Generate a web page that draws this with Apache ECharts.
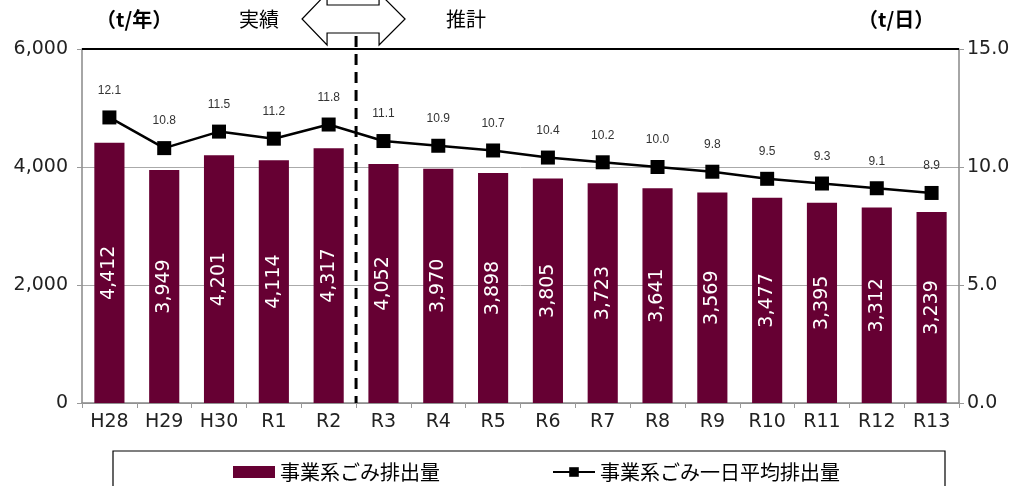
<!DOCTYPE html>
<html><head><meta charset="utf-8">
<script src="https://cdn.jsdelivr.net/npm/echarts@6/dist/echarts.min.js"></script>
<style>html,body{margin:0;padding:0;background:#fff}#c{width:1023px;height:486px}</style>
</head><body><div id="c"></div>
<script>
const categories = ['H28','H29','H30','R1','R2','R3','R4','R5','R6','R7','R8','R9','R10','R11','R12','R13'];
const annualValues = [4412,3949,4201,4114,4317,4052,3970,3898,3805,3723,3641,3569,3477,3395,3312,3239];
const dailyValues = [12.1,10.8,11.5,11.2,11.8,11.1,10.9,10.7,10.4,10.2,10.0,9.8,9.5,9.3,9.1,8.9];
const leftTicks = {min:0,max:6000,interval:2000};
const rightTicks = {min:0,max:15,interval:5};
const seriesNames = ['事業系ごみ排出量','事業系ごみ一日平均排出量'];
const unitLeft = '（t/年）', unitRight = '（t/日）', labelActual = '実績', labelForecast = '推計';
const splitIndex = 5; // first forecast category

const FONT = '"DejaVu Sans", "Noto Sans CJK JP", sans-serif';
const JFONT = '"Noto Sans CJK JP", sans-serif';
const SMALL = '"Liberation Sans", Arial, sans-serif';
const chart = echarts.init(document.getElementById('c'));
const fmt = v => v.toLocaleString('en-US');
chart.setOption({
  animation:false,
  textStyle:{fontFamily:FONT},
  grid:{left:82,right:64,top:49,bottom:83},
  legend:{
    left:228, top:457, itemGap:112, itemWidth:42, itemHeight:12,
    textStyle:{fontSize:20,color:'#000',fontFamily:JFONT},
    data:[{name:seriesNames[0],icon:'rect'},{name:seriesNames[1]}]
  },
  xAxis:{
    type:'category', data:categories,
    axisLine:{lineStyle:{color:'#888',width:1.5}},
    axisTick:{show:true,alignWithLabel:false,length:5,lineStyle:{color:'#999'}},
    axisLabel:{fontSize:19,color:'#222',margin:10,fontFamily:FONT}
  },
  yAxis:[
    {type:'value',min:leftTicks.min,max:leftTicks.max,interval:leftTicks.interval,
     axisLine:{show:true,lineStyle:{color:'#888',width:1.5}},
     axisTick:{show:true,length:5,lineStyle:{color:'#999'}},
     splitLine:{lineStyle:{color:'#aaa',width:1}},
     axisLabel:{fontSize:19,color:'#222',margin:14,formatter:v=>fmt(v),fontFamily:FONT}},
    {type:'value',min:rightTicks.min,max:rightTicks.max,interval:rightTicks.interval,
     axisLine:{show:true,lineStyle:{color:'#888',width:1.5}},
     axisTick:{show:true,length:5,lineStyle:{color:'#999'}},
     splitLine:{show:false},
     axisLabel:{fontSize:19,color:'#222',margin:8,formatter:v=>v.toFixed(1),fontFamily:FONT}}
  ],
  series:[
    {name:seriesNames[0],type:'bar',data:annualValues,barWidth:'55%',
     itemStyle:{color:'#660033'},
     label:{show:true,position:'inside',rotate:90,color:'#fff',fontSize:19,
       formatter:p=>fmt(p.value),fontFamily:FONT}},
    {name:seriesNames[1],type:'line',yAxisIndex:1,data:dailyValues,
     symbol:'rect',symbolSize:14,
     lineStyle:{color:'#000',width:2.5},itemStyle:{color:'#000'},
     label:{show:true,position:'top',distance:14,fontSize:12,color:'#333',
       formatter:p=>p.value.toFixed(1),fontFamily:SMALL},
     z:5}
  ]
});

// decorations computed from the axes
const pA = chart.convertToPixel({xAxisIndex:0},categories[splitIndex-1]);
const pB = chart.convertToPixel({xAxisIndex:0},categories[splitIndex]);
const splitX = (pA+pB)/2;
const topY = chart.convertToPixel({yAxisIndex:0},leftTicks.max);
const botY = chart.convertToPixel({yAxisIndex:0},leftTicks.min);
const leftX = 82, rightX = 1023-64;
const ay = 19; // arrow centre
const ax = splitX;
const arrowPts = [
  [ax-54,ay],[ax-29,ay-26],[ax-29,ay-14],[ax+23,ay-14],[ax+23,ay-26],[ax+49,ay],
  [ax+23,ay+26],[ax+23,ay+14],[ax-29,ay+14],[ax-29,ay+26]
];
chart.setOption({graphic:[
  {type:'line',shape:{x1:leftX,y1:topY,x2:rightX,y2:topY},style:{stroke:'#000',lineWidth:2},z:10},
  {type:'polygon',shape:{points:arrowPts},style:{fill:'#fff',stroke:'#000',lineWidth:1.2},z:10},
  {type:'line',shape:{x1:splitX,y1:36,x2:splitX,y2:botY},style:{stroke:'#000',lineWidth:3,lineDash:[11,7]},z:11},
  {type:'text',left:96,top:9,style:{text:unitLeft,font:'bold 20px '+JFONT,fill:'#000'}},
  {type:'text',left:239,top:9,style:{text:labelActual,font:'20px '+JFONT,fill:'#000'}},
  {type:'text',left:446,top:9,style:{text:labelForecast,font:'20px '+JFONT,fill:'#000'}},
  {type:'text',left:858,top:9,style:{text:unitRight,font:'bold 20px '+JFONT,fill:'#000'}},
  {type:'rect',shape:{x:113,y:451,width:832,height:60},style:{fill:null,stroke:'#000',lineWidth:1.2},z:0}
]});
</script></body></html>
